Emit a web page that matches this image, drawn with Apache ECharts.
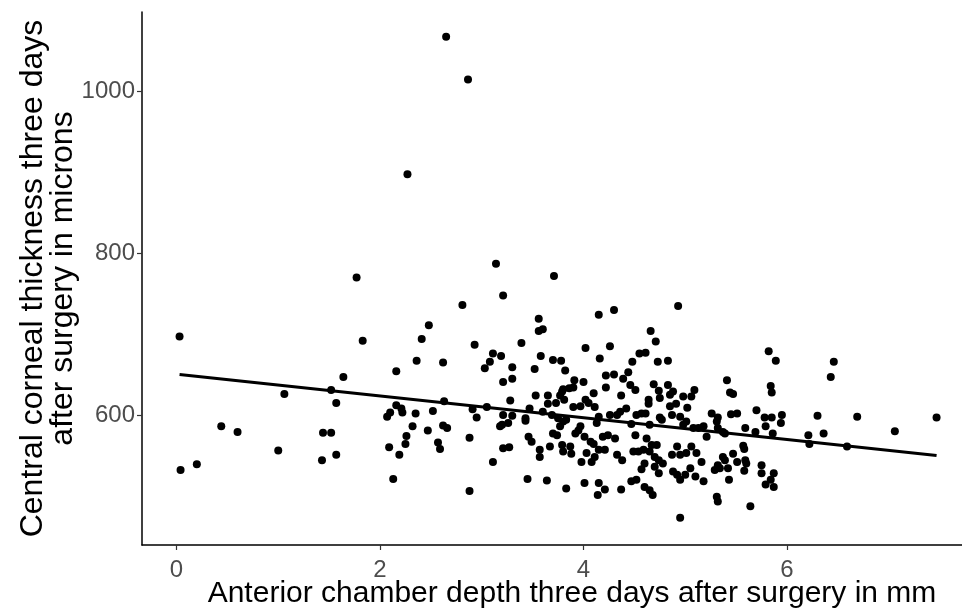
<!DOCTYPE html>
<html><head><meta charset="utf-8">
<script src="https://cdn.jsdelivr.net/npm/echarts@6/dist/echarts.min.js"></script>
<style>html,body{margin:0;padding:0;background:#fff}#c{width:962px;height:609px}</style>
</head><body><div id="c"></div>
<script>
// Anterior chamber depth (mm) and central corneal thickness (microns)
const depthMm = [
2.27,1.77,2.65,2.865,3.14,3.71,
0.03,0.04,0.20,0.44,0.60,1.00,1.06,1.44,1.52,1.43,1.57,1.52,1.57,
2.81,2.48,2.41,1.83,2.93,2.36,2.62,2.16,1.64,2.63,2.16,2.21,2.22,2.10,2.07,2.35,2.52,2.91,2.95,
2.32,2.47,2.62,2.66,2.26,2.25,2.09,2.19,2.57,2.59,2.88,2.13,2.88,
3.21,3.56,3.56,3.60,4.15,3.39,3.11,3.08,3.03,3.19,3.30,3.58,3.70,3.78,3.82,3.52,4.02,4.16,3.30,3.21,3.91,4.00,3.80,3.86,3.90,4.10,3.53,3.65,3.77,3.79,3.28,3.65,3.73,3.81,3.90,3.97,4.02,4.05,4.11,3.05,3.47,3.60,3.21,3.30,3.43,
3.20,3.26,3.18,3.43,3.46,3.49,3.21,3.27,3.11,3.57,3.57,3.67,3.70,3.74,3.77,3.80,3.83,3.79,3.80,3.87,3.88,3.92,3.95,3.97,4.01,4.03,4.07,4.10,3.98,4.08,4.11,4.15,4.13,4.15,3.45,3.64,3.83,4.01,4.15,4.14,3.69,3.75,
4.93,4.30,4.66,4.71,4.26,4.55,4.61,4.48,4.73,4.83,4.44,4.22,4.30,4.39,4.22,4.46,4.51,4.37,4.69,4.74,4.75,4.83,4.88,4.85,4.98,5.09,5.06,4.64,4.64,4.85,4.91,5.02,4.42,4.36,4.26,4.33,4.52,4.61,4.75,4.87,5.26,5.32,
4.57,4.47,4.65,4.77,4.95,4.98,5.01,5.08,5.13,5.18,5.21,5.31,5.32,4.19,4.24,4.31,4.21,4.33,4.38,4.51,4.62,4.67,4.72,4.49,4.54,4.59,4.65,4.70,4.74,4.78,4.60,4.57,4.70,4.74,4.87,4.92,4.95,5.01,5.06,5.11,5.16,4.88,4.92,4.95,5.00,5.05,5.10,5.18,5.29,5.32,4.21,4.37,4.47,4.52,4.60,4.65,4.68,4.95,5.31,5.32,
5.82,5.89,6.46,6.43,5.41,5.44,5.47,5.84,5.85,5.70,5.45,5.51,5.78,5.85,5.95,5.94,5.79,5.59,5.69,5.86,6.30,6.36,6.21,6.22,5.37,5.39,5.57,5.58,5.47,5.37,5.39,5.34,5.42,5.51,5.59,5.60,5.58,5.75,5.75,5.87,5.84,5.79,5.87,5.43,5.64,
6.69,7.06,7.47,6.59
];
const thicknessMicrons = [
898,770,1068,1015,787,772,
697,532,539,586,579,556,626,578,578,544,551,631,615,
736,711,694,692,687,667,665,654,647,617,612,608,603,603,598,602,605,607,597,
586,581,587,584,574,564,560,551,566,558,572,521,506,
748,719,704,706,724,689,676,666,658,673,659,673,668,667,655,657,683,670,645,641,643,641,632,633,634,627,624,624,624,629,618,614,615,619,610,611,619,615,610,610,608,604,600,599,596,
588,590,586,593,573,567,559,560,542,557,548,561,577,575,586,592,594,563,555,561,552,577,581,586,573,553,567,564,542,542,548,557,590,598,521,519,509,516,516,501,600,596,
735,730,704,691,685,676,677,666,666,667,653,649,650,645,634,637,631,624,638,630,621,637,629,625,623,631,623,619,614,611,614,609,608,604,600,600,600,602,597,600,602,597,
602,589,588,594,598,588,592,584,584,586,573,592,584,573,575,571,557,551,544,575,571,563,563,555,555,557,555,548,544,540,540,533,536,528,551,561,551,553,561,553,542,530,526,520,526,534,524,518,532,538,508,508,518,520,511,507,501,473,499,493,
679,667,666,647,643,628,626,636,628,606,601,602,597,597,600,590,586,584,579,577,599,577,575,564,579,577,562,558,552,548,544,534,534,542,544,540,531,538,528,528,520,514,511,520,487,
598,580,597,561
];
// fitted regression line end points
const fitDepth = [0.03, 7.47];
const fitThickness = [650, 550];
const xTickValues = [0, 2, 4, 6];
const yTickValues = [600, 800, 1000];

const points = depthMm.map((d, i) => [d, thicknessMicrons[i]]);
const fitLine = fitDepth.map((d, i) => [d, fitThickness[i]]);

const chart = echarts.init(document.getElementById('c'), null, {renderer: 'canvas'});
const font = 'Liberation Sans, Arial, sans-serif';
chart.setOption({
  animation: false,
  backgroundColor: '#ffffff',
  grid: {left: 142, top: 12, right: 0, bottom: 64, containLabel: false, outerBoundsMode: 'none'},
  xAxis: {
    type: 'value', min: -0.339, max: 7.72,
    splitLine: {show: false},
    axisLine: {show: true, onZero: false, lineStyle: {color: '#000', width: 1.5}},
    axisTick: {show: true, customValues: xTickValues, length: 5, lineStyle: {color: '#333', width: 1.2}},
    axisLabel: {customValues: xTickValues, color: '#4D4D4D', fontSize: 24, margin: 13, fontFamily: font},
    name: 'Anterior chamber depth three days after surgery in mm',
    nameLocation: 'middle', nameGap: 34, nameMoveOverlap: false,
    nameTextStyle: {color: '#000', fontSize: 30, fontFamily: font, padding: [0, 0, 0, 40]}
  },
  yAxis: {
    type: 'value', min: 439.2, max: 1098.6,
    splitLine: {show: false},
    axisLine: {show: true, onZero: false, lineStyle: {color: '#000', width: 1.5}},
    axisTick: {show: true, customValues: yTickValues, length: 5, lineStyle: {color: '#333', width: 1.2}},
    axisLabel: {customValues: yTickValues, color: '#4D4D4D', fontSize: 24, margin: 7, fontFamily: font,
      formatter: v => String(v)},
    name: 'Central corneal thickness three days\nafter surgery in microns',
    nameLocation: 'middle', nameGap: 64, nameMoveOverlap: false,
    nameTextStyle: {color: '#000', fontSize: 32, lineHeight: 30, fontFamily: font}
  },
  series: [
    {type: 'scatter', data: points, symbolSize: 8, itemStyle: {color: '#000', opacity: 1}, clip: false, z: 2},
    {type: 'line', data: fitLine, showSymbol: false, symbol: 'none', lineStyle: {color: '#000', width: 3}, z: 3}
  ]
});
</script>
</body></html>
